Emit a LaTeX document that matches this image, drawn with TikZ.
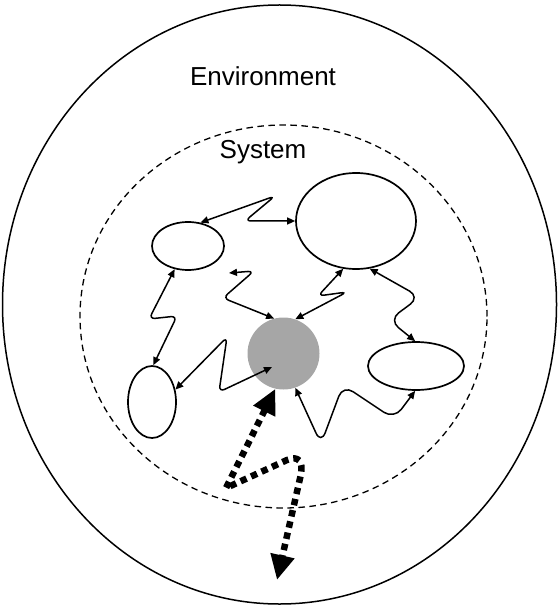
\documentclass[tikz,border=0pt]{standalone}
\usepackage{fontspec}
\setmainfont{Liberation Sans}
\usetikzlibrary{shapes.geometric,arrows.meta}
\definecolor{hubgray}{HTML}{A6A6A6}
\begin{document}
\begin{tikzpicture}[x=1pt,y=1pt,
  blob/.style={draw, ellipse, line width=1.7pt, inner sep=0pt},
  conn/.style={{Triangle[length=8pt,width=7pt]}-{Triangle[length=8pt,width=7pt]},
               line width=1.5pt, rounded corners=6pt},
  flow/.style={{Triangle[length=25pt,width=23pt]}-{Triangle[length=25pt,width=23pt]},
               line width=6.5pt, dash pattern=on 6.5pt off 5pt, line join=round},
  headtext/.style={font=\fontsize{26}{30}\selectfont, anchor=base, inner sep=0pt}]
\useasboundingbox (0,0) rectangle (557,-609);

% environment and system boundaries
\node[draw, ellipse, line width=1.5pt, inner sep=0pt,
      minimum width=554pt, minimum height=599pt] (env) at (279.5,-304.5) {};
\node[draw, ellipse, line width=1.3pt, dash pattern=on 6.5pt off 4.5pt, inner sep=0pt,
      minimum width=407pt, minimum height=383pt] (sys) at (283.5,-316.5) {};

\node[headtext] (envlabel) at (263,-85.5) {Environment};
\node[headtext] (syslabel) at (263,-158.5) {System};

% parts of the system
\node[blob, minimum width=72pt,  minimum height=48pt] (nA) at (188,-246) {};
\node[blob, minimum width=120pt, minimum height=96pt] (nB) at (356,-221) {};
\node[circle, fill=hubgray, minimum size=72pt, inner sep=0pt] (nC) at (283.5,-353.5) {};
\node[blob, minimum width=96pt,  minimum height=48pt] (nD) at (416,-366) {};
\node[blob, minimum width=48pt,  minimum height=72pt] (nE) at (152,-402) {};

% free ends
\coordinate (c3) at (229,-273);
\coordinate (c6) at (272,-367);
\coordinate (out) at (277,-580);

% interactions inside the system
\draw[conn] (nA.62) -- (275,-196) -- (245,-221) -- (nB.west);
\draw[conn] (nA.-120) -- (149,-319) -- (177,-316) -- (nE.88);
\draw[conn] (c3) -- (254,-271) -- (223,-298) -- (nC.105);
\draw[conn] (nB.-105) -- (318,-296) -- (347,-292) -- (nC.71);
\draw[conn, rounded corners=12pt] (nB.-74) -- (420,-297) -- (389,-320) -- (nD.92);
\draw[conn] (c6) -- (219,-392) -- (227,-337) -- (nE.28);
\draw[conn, rounded corners=12pt] (nC.-71) -- (321,-444) -- (343,-385) -- (394,-419) -- (nD.-92);

% exchange with the environment
\draw[flow] (nC.-103) -- (226,-488) -- (287,-460)
  .. controls (299,-455) and (303,-462) .. (301,-474) -- (out);
\end{tikzpicture}
\end{document}
